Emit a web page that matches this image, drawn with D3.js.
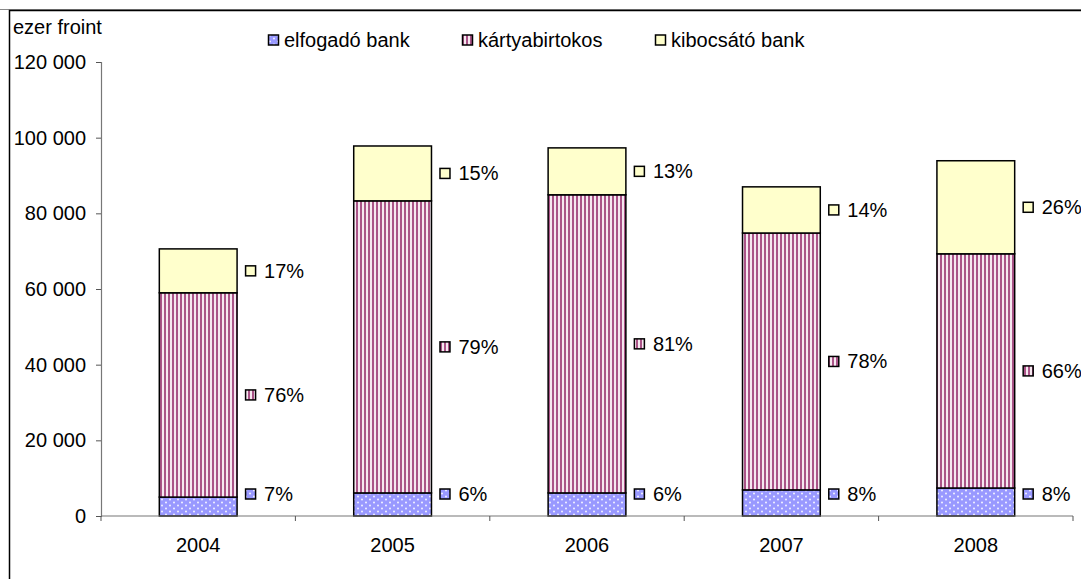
<!DOCTYPE html>
<html>
<head>
<meta charset="utf-8">
<script src="https://cdn.jsdelivr.net/npm/d3@7"></script>
<style>
  body { margin: 0; background: #fff; }
  text { font-family: "Liberation Sans", Arial, sans-serif; fill: #000; }
</style>
</head>
<body>
<script>
// data (ezer forint)
const years = ['2004', '2005', '2006', '2007', '2008'];
const seriesNames = ['elfogadó bank', 'kártyabirtokos', 'kibocsátó bank'];
const elfogado = [5000, 6100, 6100, 6900, 7400];
const kartya = [54000, 77200, 78800, 67900, 61900];
const kibocsato = [11600, 14500, 12400, 12200, 24600];
const elfogadoPct = ['7%', '6%', '6%', '8%', '8%'];
const kartyaPct = ['76%', '79%', '81%', '78%', '66%'];
const kibocsatoPct = ['17%', '15%', '13%', '14%', '26%'];
const yTicks = [0, 20000, 40000, 60000, 80000, 100000, 120000];

const W = 1081, H = 579;
const M = { left: 101, right: 1073, top: 62, bottom: 516 };

const svg = d3.select('body').append('svg')
    .attr('width', W)
    .attr('height', H);

// patterns
const defs = svg.append('defs');
const dots = defs.append('pattern')
    .attr('id', 'p-dots')
    .attr('patternUnits', 'userSpaceOnUse')
    .attr('width', 8).attr('height', 6);
dots.append('rect').attr('width', 8).attr('height', 6).attr('fill', '#9999FF');
dots.append('circle').attr('cx', 2).attr('cy', 1.5).attr('r', 1).attr('fill', '#F2F2FF');
dots.append('circle').attr('cx', 6).attr('cy', 4.5).attr('r', 1).attr('fill', '#F2F2FF');

const stripes = defs.append('pattern')
    .attr('id', 'p-stripes')
    .attr('patternUnits', 'userSpaceOnUse')
    .attr('width', 4).attr('height', 4);
stripes.append('rect').attr('width', 4).attr('height', 4).attr('fill', '#F6E8F0');
stripes.append('rect').attr('width', 2).attr('height', 4).attr('fill', '#AA5488');

const fills = ['url(#p-dots)', 'url(#p-stripes)', '#FFFFCC'];

// frame
svg.append('line')
    .attr('x1', 0).attr('x2', W).attr('y1', 9.5).attr('y2', 9.5)
    .attr('stroke', '#888').attr('stroke-width', 1);
svg.append('rect')
    .attr('x', 9.5).attr('y', 10.5)
    .attr('width', W + 20).attr('height', H + 20)
    .attr('fill', 'none').attr('stroke', '#000').attr('stroke-width', 1.5);

// scales
const x = d3.scaleBand()
    .domain(years)
    .range([M.left, M.right])
    .paddingInner(0.6)
    .paddingOuter(0.3);

const y = d3.scaleLinear()
    .domain([0, 120000])
    .range([M.bottom, M.top]);

// stack
const rows = years.map((yr, i) => ({
    year: yr,
    e: elfogado[i], k: kartya[i], b: kibocsato[i],
    pct: [elfogadoPct[i], kartyaPct[i], kibocsatoPct[i]]
}));
const stack = d3.stack().keys(['e', 'k', 'b'])(rows);

// y axis
const yAxis = d3.axisLeft(y)
    .tickValues(yTicks)
    .tickSize(5)
    .tickPadding(10)
    .tickFormat(d => d3.format(',')(d).replace(/,/g, ' '));
const yg = svg.append('g')
    .attr('transform', `translate(${M.left},0)`)
    .call(yAxis);
yg.select('.domain').attr('stroke', '#777').attr('stroke-width', 1.2);
yg.selectAll('.tick line').attr('stroke', '#555');
yg.selectAll('.tick text')
    .style('font-size', '20px')
    .style('font-family', '"Liberation Sans", Arial, sans-serif');

svg.append('text')
    .attr('x', 13).attr('y', 34)
    .style('font-size', '20px')
    .text('ezer froint');

// bars
const layers = svg.append('g').selectAll('g')
    .data(stack)
    .join('g')
    .attr('fill', (d, i) => fills[i]);

layers.selectAll('rect')
    .data(d => d)
    .join('rect')
    .attr('x', d => x(d.data.year))
    .attr('width', x.bandwidth())
    .attr('y', d => y(d[1]))
    .attr('height', d => y(d[0]) - y(d[1]))
    .attr('stroke', '#000')
    .attr('stroke-width', 1.5);

// x axis
svg.append('line')
    .attr('x1', M.left).attr('x2', M.right)
    .attr('y1', M.bottom).attr('y2', M.bottom)
    .attr('stroke', '#777').attr('stroke-width', 1.2);

const bounds = d3.range(years.length + 1).map(i => M.left + i * x.step());
svg.append('g').selectAll('line')
    .data(bounds)
    .join('line')
    .attr('x1', d => d).attr('x2', d => d)
    .attr('y1', M.bottom).attr('y2', M.bottom + 5)
    .attr('stroke', '#555');

svg.append('g').selectAll('text')
    .data(years)
    .join('text')
    .attr('x', d => x(d) + x.bandwidth() / 2)
    .attr('y', 552)
    .attr('text-anchor', 'middle')
    .style('font-size', '20px')
    .text(d => d);

// percentage labels
stack.forEach((layer, si) => {
    const g = svg.append('g');
    layer.forEach(d => {
        let cy = (y(d[0]) + y(d[1])) / 2;
        cy = Math.min(cy, M.bottom - 22);
        const bx = x(d.data.year) + x.bandwidth();
        g.append('rect')
            .attr('x', bx + 8.5).attr('y', cy - 5)
            .attr('width', 10).attr('height', 10)
            .attr('fill', fills[si])
            .attr('stroke', '#000').attr('stroke-width', 1.5);
        g.append('text')
            .attr('x', bx + 27).attr('y', cy + 7)
            .style('font-size', '20px')
            .text(d.data.pct[si]);
    });
});

// legend
const legendX = [268, 462, 655];
const legend = svg.append('g').selectAll('g')
    .data(seriesNames)
    .join('g')
    .attr('transform', (d, i) => `translate(${legendX[i]},40)`);
legend.append('rect')
    .attr('x', 0.5).attr('y', -5)
    .attr('width', 10).attr('height', 10)
    .attr('fill', (d, i) => fills[i])
    .attr('stroke', '#000').attr('stroke-width', 1.5);
legend.append('text')
    .attr('x', 16).attr('y', 7)
    .style('font-size', '20px')
    .text(d => d);
</script>
</body>
</html>
